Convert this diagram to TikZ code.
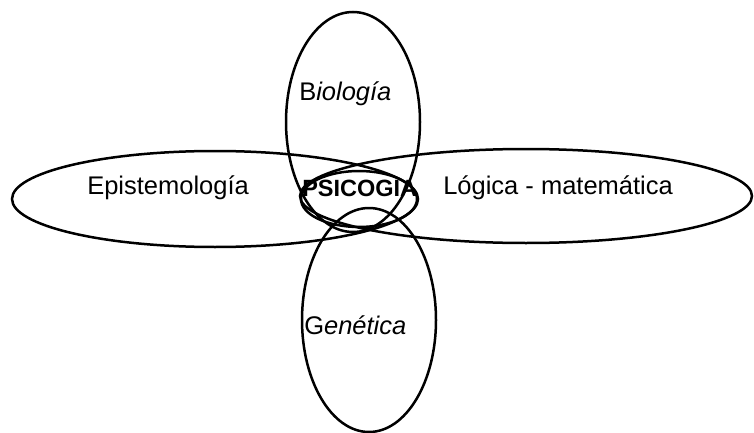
\documentclass[tikz,border=0pt]{standalone}
\usepackage{fontspec}
\setmainfont{Liberation Sans}
\begin{document}
\begin{tikzpicture}[x=1pt, y=-1pt, line width=2.5pt]
    \useasboundingbox (0,0) rectangle (754,433);
    \tikzset{lbl/.style={anchor=base west, inner sep=0pt, font=\fontsize{25.5}{30}\selectfont}}
    % the five fields
    \draw (353,122) ellipse (67pt and 110pt);
    \draw (215,199) ellipse (203pt and 48pt);
    \draw (526,196) ellipse (226pt and 47pt);
    \draw (369,320) ellipse (67pt and 112pt);
    \draw (359,199) ellipse (58pt and 28pt);
    \node[lbl] (bio) at (298,101) {B\textit{iología}};
    \node[lbl] (epis) at (86,194) {Epistemología};
    \node[lbl] (logica) at (442,194) {Lógica - matemática};
    \node[lbl] (gen) at (303,334) {G\textit{enética}};
    \node[lbl, font=\fontsize{23.5}{28}\selectfont\bfseries] (psico) at (301,196) {PSICOGIA};
\end{tikzpicture}
\end{document}
